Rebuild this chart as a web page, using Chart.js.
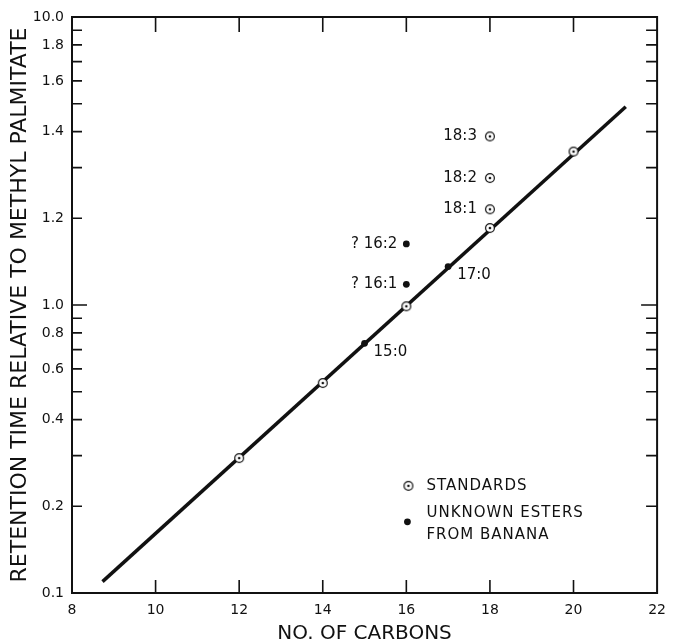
<!DOCTYPE html>
<html>
<head>
<meta charset="utf-8">
<script src="https://cdn.jsdelivr.net/npm/chart.js@4.4.0/dist/chart.umd.min.js"></script>
<style>
  body { margin: 0; background: #fff; }
  #wrap { width: 675px; height: 644px; }
</style>
</head>
<body>
<div id="wrap"><canvas id="myChart" width="675" height="644"></canvas></div>
<script>
// retention time (relative to methyl palmitate) vs number of carbons
const standardCarbons = [12, 14, 16, 18, 20, 18, 18, 18];
const standardRetention = [0.294, 0.536, 0.99, 1.85, 3.41, 2.15, 2.76, 3.85];
const standardLabels = ['', '', '', '', '', '18:1', '18:2', '18:3'];

const unknownCarbons = [15, 16, 16, 17];
const unknownRetention = [0.736, 1.18, 1.63, 1.36];
const unknownLabels = ['15:0', '? 16:1', '? 16:2', '17:0'];

// ends of the drawn line
const lineCarbons = [8.73, 21.25];
const lineRetention = [0.1095, 4.88];

const xTicks = [8, 10, 12, 14, 16, 18, 20, 22];
const yTicks = [0.1, 0.2, 0.4, 0.6, 0.8, 1, 2, 4, 6, 8, 10];
const yTickLabels = ['0.1', '0.2', '0.4', '0.6', '0.8', '1.0', '1.2', '1.4', '1.6', '1.8', '10.0'];
const legendLabels = ['STANDARDS', 'UNKNOWN ESTERS', 'FROM BANANA'];

const ink = '#111';
const family = "'DejaVu Sans', sans-serif";

// small log marks 1..9 in each decade
let yMinor = [];
[0.1, 1].forEach(d => {
    for (let k = 1; k <= 9; k++) yMinor.push(k * d);
});
yMinor.push(10);

function makeStandardMarker(){
    const c = document.createElement('canvas');
    c.width = 12; c.height = 12;
    const g = c.getContext('2d');
    g.fillStyle = '#fff';
    g.strokeStyle = ink;
    g.lineWidth = 1.2;
    g.beginPath(); g.arc(6, 6, 4.4, 0, Math.PI * 2); g.fill(); g.stroke();
    g.fillStyle = ink;
    g.beginPath(); g.arc(6, 6, 1.3, 0, Math.PI * 2); g.fill();
    return c;
}
const standardMarker = makeStandardMarker();

const framePlugin = {
    id: 'frame',
    beforeDraw(chart){
        const ctx = chart.ctx;
        ctx.save();
        ctx.fillStyle = '#fff';
        ctx.fillRect(0, 0, chart.width, chart.height);
        ctx.restore();
    },
    beforeDatasetsDraw(chart){
        const {ctx, chartArea: a, scales: {x, y}} = chart;
        ctx.save();
        ctx.strokeStyle = ink;
        ctx.lineWidth = 2;
        ctx.strokeRect(a.left, a.top, a.right - a.left, a.bottom - a.top);
        ctx.lineWidth = 1.6;
        ctx.beginPath();
        xTicks.forEach(v => {
            if (v <= x.min || v >= x.max) return;
            const px = x.getPixelForValue(v);
            ctx.moveTo(px, a.bottom); ctx.lineTo(px, a.bottom - 13);
            ctx.moveTo(px, a.top); ctx.lineTo(px, a.top + 15);
        });
        yMinor.forEach(v => {
            if (v <= y.min + 1e-9 || v >= y.max - 1e-9) return;
            const py = y.getPixelForValue(v);
            const len = v === 1 ? 15 : 10;
            ctx.moveTo(a.left, py); ctx.lineTo(a.left + len, py);
            ctx.moveTo(a.right, py); ctx.lineTo(a.right - len - 1, py);
        });
        ctx.stroke();
        ctx.restore();
    },
    afterDatasetsDraw(chart){
        const {ctx, chartArea: a, scales: {x, y}} = chart;
        ctx.save();
        ctx.fillStyle = ink;
        ctx.font = '15px ' + family;
        ctx.textBaseline = 'middle';
        // point labels
        standardLabels.forEach((t, i) => {
            if (!t) return;
            const px = x.getPixelForValue(standardCarbons[i]);
            const py = y.getPixelForValue(standardRetention[i]);
            ctx.textAlign = 'right';
            ctx.fillText(t, px - 13, py);
        });
        unknownLabels.forEach((t, i) => {
            const px = x.getPixelForValue(unknownCarbons[i]);
            const py = y.getPixelForValue(unknownRetention[i]);
            if (t.startsWith('?')) {
                ctx.textAlign = 'right';
                ctx.fillText(t, px - 9, py);
            } else {
                ctx.textAlign = 'left';
                ctx.fillText(t, px + 9, py + 8.5);
            }
        });
        // legend box in lower right of the plot
        const lx = a.left + (a.right - a.left) * 0.575;
        const ly = a.top + (a.bottom - a.top) * 0.814;
        ctx.drawImage(standardMarker, lx - 6, ly - 6);
        ctx.beginPath();
        ctx.arc(lx - 1, ly + 36, 3.4, 0, Math.PI * 2);
        ctx.fill();
        ctx.textAlign = 'left';
        ctx.letterSpacing = '1px';
        ctx.fillText(legendLabels[0], lx + 18, ly);
        ctx.fillText(legendLabels[1], lx + 18, ly + 27);
        ctx.fillText(legendLabels[2], lx + 18, ly + 49);
        ctx.restore();
    }
};

const ctx = document.getElementById('myChart');
const myChart = new Chart(ctx, {
    type: 'scatter',
    data: {
        datasets: [{
            label: 'Standards',
            data: standardCarbons.map((c, i) => ({x: c, y: standardRetention[i]})),
            pointStyle: standardMarker,
            pointRadius: 5
        }, {
            label: 'Unknown esters from banana',
            data: unknownCarbons.map((c, i) => ({x: c, y: unknownRetention[i]})),
            pointStyle: 'circle',
            pointRadius: 3.4,
            backgroundColor: ink,
            borderWidth: 0
        }, {
            type: 'line',
            label: 'fit',
            data: lineCarbons.map((c, i) => ({x: c, y: lineRetention[i]})),
            borderColor: ink,
            borderWidth: 3.5,
            pointRadius: 0,
            fill: false
        }]
    },
    options: {
        responsive: false,
        animation: false,
        layout: { padding: { top: 17, right: 8, left: 0, bottom: 0 } },
        plugins: {
            legend: { display: false },
            tooltip: { enabled: false }
        },
        scales: {
            x: {
                type: 'linear',
                min: 8,
                max: 22,
                afterBuildTicks: s => { s.ticks = xTicks.map(v => ({value: v})); },
                afterFit: s => { s.height = 51; },
                grid: { display: false, drawTicks: false },
                border: { display: false },
                ticks: { color: ink, font: { family: family, size: 14 }, padding: 9, autoSkip: false, maxRotation: 0 },
                title: {
                    display: true,
                    text: 'NO. OF CARBONS',
                    color: ink,
                    font: { family: family, size: 20, lineHeight: 1 },
                    padding: { top: 0, bottom: 0 }
                }
            },
            y: {
                type: 'logarithmic',
                min: 0.1,
                max: 10,
                afterBuildTicks: s => { s.ticks = yTicks.map(v => ({value: v})); },
                afterFit: s => { s.width = 72; },
                grid: { display: false, drawTicks: false },
                border: { display: false },
                ticks: {
                    color: ink,
                    font: { family: family, size: 14 },
                    padding: 8,
                    autoSkip: false,
                    callback: (v, i) => yTickLabels[i]
                },
                title: {
                    display: true,
                    text: 'RETENTION TIME RELATIVE TO METHYL PALMITATE',
                    color: ink,
                    font: { family: family, size: 22, lineHeight: 1 },
                    padding: { top: 9, bottom: 0 }
                }
            }
        }
    },
    plugins: [framePlugin]
});
</script>
</body>
</html>
